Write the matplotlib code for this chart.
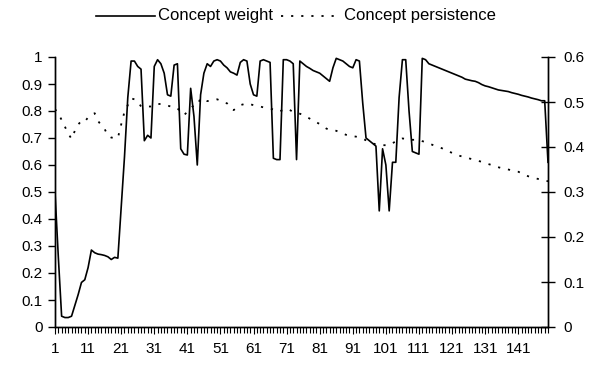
import numpy as np
import matplotlib.pyplot as plt
from matplotlib.lines import Line2D

plt.rcParams['font.family'] = ['Liberation Sans', 'DejaVu Sans']

# Valori (150 rilevazioni)
concept_weight = [
    0.50, 0.26, 0.04, 0.035, 0.035, 0.04, 0.08, 0.12, 0.165, 0.175,
    0.22, 0.285, 0.275, 0.27, 0.268, 0.265, 0.26, 0.25, 0.258, 0.255,
    0.445, 0.63, 0.85, 0.985, 0.985, 0.965, 0.955, 0.69, 0.71, 0.70,
    0.965, 0.99, 0.975, 0.94, 0.86, 0.855, 0.97, 0.975, 0.66, 0.64,
    0.637, 0.884, 0.78, 0.60, 0.86, 0.94, 0.975, 0.965, 0.985, 0.99,
    0.985, 0.97, 0.96, 0.945, 0.94, 0.933, 0.98, 0.99, 0.985, 0.90,
    0.86, 0.855, 0.985, 0.99, 0.985, 0.98, 0.625, 0.62, 0.62, 0.99,
    0.99, 0.985, 0.975, 0.62, 0.985, 0.975, 0.965, 0.958, 0.95, 0.945,
    0.94, 0.93, 0.92, 0.91, 0.96, 0.995, 0.99, 0.985, 0.975, 0.965,
    0.96, 0.99, 0.985, 0.83, 0.70, 0.69, 0.68, 0.67, 0.43, 0.66,
    0.60, 0.43, 0.61, 0.61, 0.85, 0.99, 0.99, 0.80, 0.65, 0.645,
    0.64, 0.995, 0.99, 0.975, 0.97, 0.965, 0.96, 0.955, 0.95, 0.945,
    0.94, 0.935, 0.93, 0.925, 0.918, 0.915, 0.912, 0.91, 0.905, 0.898,
    0.893, 0.89, 0.886, 0.882, 0.878, 0.876, 0.874, 0.872, 0.868, 0.865,
    0.862, 0.858, 0.855, 0.852, 0.848, 0.845, 0.842, 0.838, 0.838, 0.61,
]

concept_persistence = [
    0.484, 0.475, 0.46, 0.445, 0.43, 0.418, 0.436, 0.45, 0.458, 0.456,
    0.466, 0.472, 0.475, 0.458, 0.448, 0.44, 0.425, 0.421, 0.42, 0.42,
    0.45, 0.478, 0.493, 0.508, 0.506, 0.502, 0.49, 0.49, 0.49, 0.49,
    0.49, 0.495, 0.496, 0.494, 0.492, 0.49, 0.49, 0.486, 0.478, 0.471,
    0.478, 0.486, 0.493, 0.493, 0.508, 0.505, 0.502, 0.503, 0.505, 0.506,
    0.503, 0.499, 0.497, 0.49, 0.482, 0.488, 0.493, 0.495, 0.497, 0.495,
    0.493, 0.492, 0.49, 0.488, 0.487, 0.486, 0.483, 0.479, 0.48, 0.482,
    0.485, 0.482, 0.478, 0.476, 0.474, 0.471, 0.467, 0.463, 0.459, 0.455,
    0.451, 0.446, 0.441, 0.438, 0.437, 0.436, 0.433, 0.43, 0.427, 0.425,
    0.424, 0.423, 0.421, 0.418, 0.415, 0.412, 0.408, 0.406, 0.405, 0.404,
    0.404, 0.404, 0.408, 0.413, 0.417, 0.419, 0.418, 0.417, 0.416, 0.416,
    0.416, 0.413, 0.411, 0.408, 0.405, 0.402, 0.40, 0.397, 0.393, 0.39,
    0.387, 0.384, 0.381, 0.379, 0.377, 0.375, 0.373, 0.371, 0.369, 0.367,
    0.364, 0.362, 0.36, 0.357, 0.355, 0.353, 0.352, 0.35, 0.348, 0.346,
    0.345, 0.342, 0.338, 0.335, 0.333, 0.331, 0.329, 0.327, 0.325, 0.324,
]

x = np.arange(1, len(concept_weight) + 1)
x_labels = list(range(1, 142, 10))
left_ticks = [0, 0.1, 0.2, 0.3, 0.4, 0.5, 0.6, 0.7, 0.8, 0.9, 1]
right_ticks = [0, 0.1, 0.2, 0.3, 0.4, 0.5, 0.6]

fig = plt.figure(figsize=(5.99, 3.67), dpi=100)
ax = fig.add_axes([55 / 599, 1 - 327 / 367, 493 / 599, 270 / 367])
ax2 = ax.twinx()

dotted = (0, (1.2, 4.4))
ax.plot(x, concept_weight, color='black', lw=1.2)
ax2.plot(x, concept_persistence, color='black', lw=1.3, linestyle=dotted)

ax.set_xlim(1, len(x))
ax.set_ylim(0, 1)
ax2.set_ylim(0, 0.6)

ax.set_yticks(left_ticks)
ax.set_yticklabels([f'{t:g}' for t in left_ticks])
ax2.set_yticks(right_ticks)
ax2.set_yticklabels([f'{t:g}' for t in right_ticks])

ax.set_xticks(x_labels)
ax.set_xticklabels([str(v) for v in x_labels])
ax.set_xticks(x, minor=True)

for a in (ax, ax2):
    a.spines['top'].set_visible(False)
    for s in a.spines.values():
        s.set_linewidth(1.0)

ax.tick_params(axis='y', direction='out', length=5, width=1, labelsize=11, pad=4)
ax.tick_params(axis='x', which='major', direction='out', length=5, width=0.8, labelsize=11, pad=6)
ax.tick_params(axis='x', which='minor', direction='out', length=4, width=0.8)
ax2.tick_params(axis='y', direction='inout', length=10, width=1, labelsize=11, pad=6)

# Legenda in alto, disegnata a mano
ly = 1 - 15.5 / 367
fig.add_artist(Line2D([96 / 599, 155 / 599], [ly, ly], color='black', lw=1.2))
fig.text(158 / 599, ly, 'Concept weight', fontsize=12, va='center')
fig.add_artist(Line2D([281 / 599, 340 / 599], [ly, ly], color='black', lw=1.3, linestyle=dotted))
fig.text(344 / 599, ly, 'Concept persistence', fontsize=12, va='center')

fig.savefig('out.png', dpi=100)
